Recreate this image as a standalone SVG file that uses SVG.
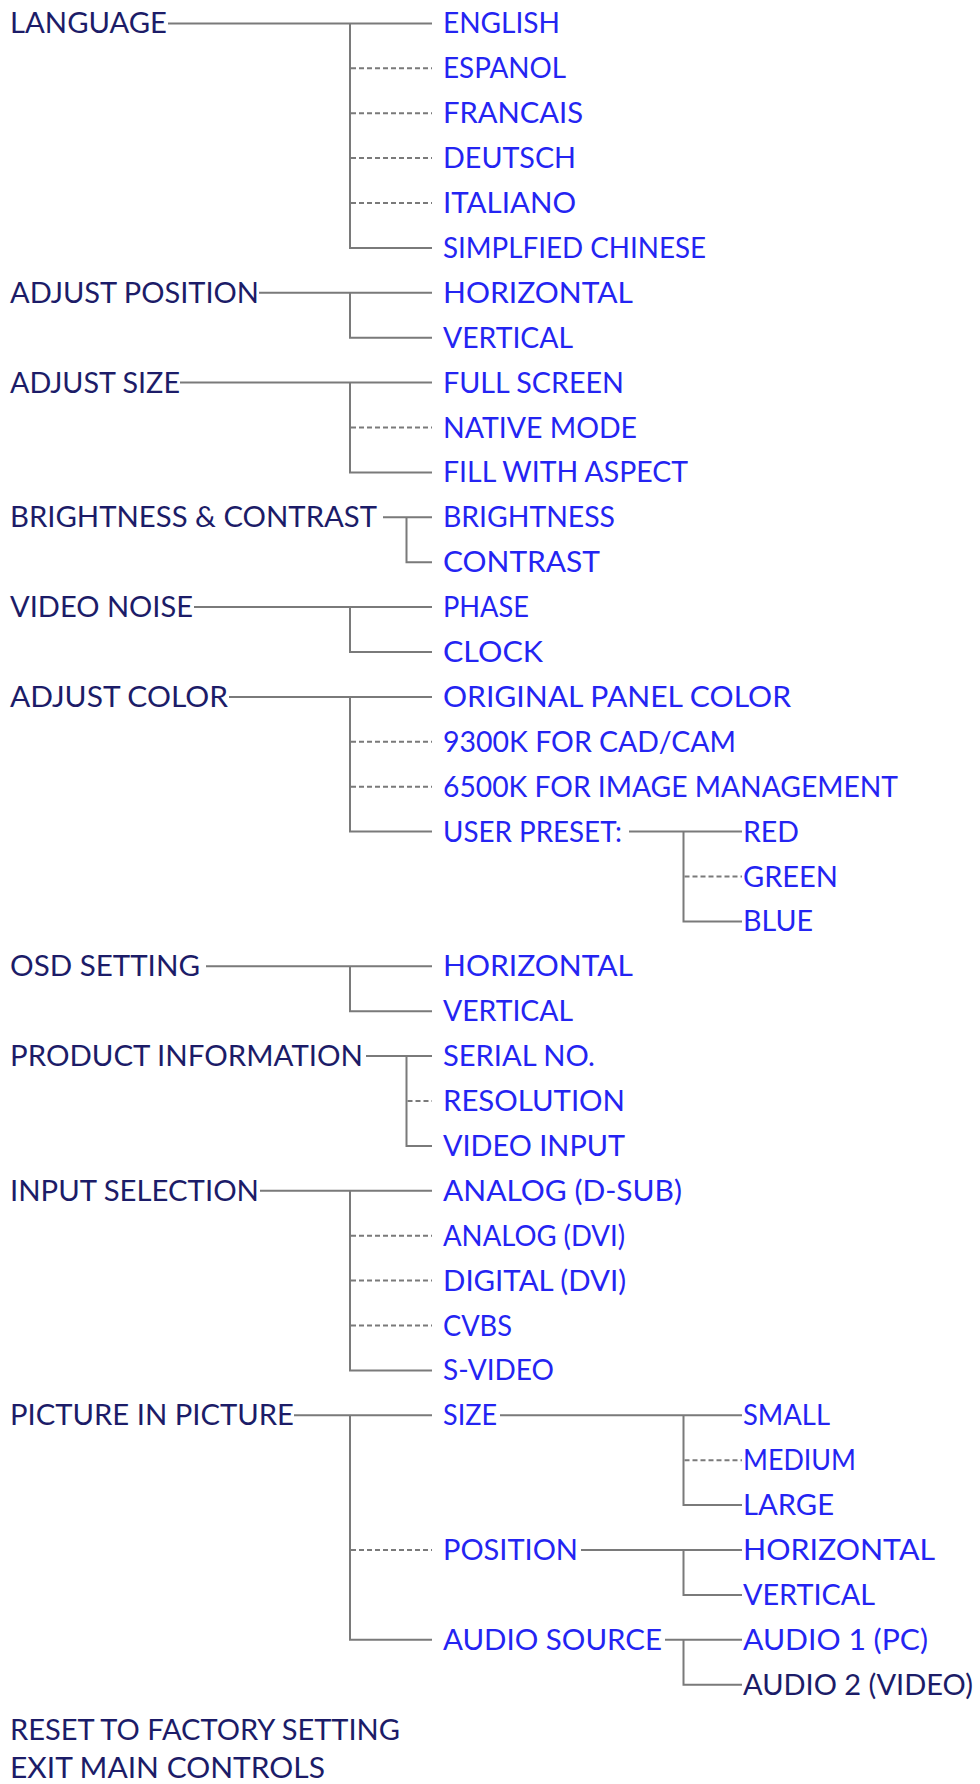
<svg xmlns="http://www.w3.org/2000/svg" width="980" height="1784" viewBox="0 0 980 1784">
<style>
text{font-family:Lato,"Open Sans","Liberation Sans",sans-serif;font-size:28px;}
.m{fill:#1c1c68;}
.c{fill:#2424f2;}
.l{stroke:#7a7a7a;stroke-width:2;fill:none;}
.d{stroke:#7a7a7a;stroke-width:2;fill:none;stroke-dasharray:5 3;}
</style>
<rect width="980" height="1784" fill="#ffffff"/>
<g id="connectors">
<!-- LANGUAGE -->
<path class="l" d="M168 23.4H432M350 23.4V247.9H432"/>
<path class="d" d="M351 68.3H432M351 113.2H432M351 158.1H432M351 203H432"/>
<!-- ADJUST POSITION -->
<path class="l" d="M259 292.8H432M350 292.8V337.7H432"/>
<!-- ADJUST SIZE -->
<path class="l" d="M180 382.6H432M350 382.6V472.4H432"/>
<path class="d" d="M351 427.5H432"/>
<!-- BRIGHTNESS & CONTRAST -->
<path class="l" d="M383 517.3H432M406.5 517.3V562.2H432"/>
<!-- VIDEO NOISE -->
<path class="l" d="M194 607.1H432M350 607.1V652H432"/>
<!-- ADJUST COLOR -->
<path class="l" d="M229 696.9H432M350 696.9V831.6H432"/>
<path class="d" d="M351 741.8H432M351 786.7H432"/>
<path class="l" d="M629 831.6H742M683.5 831.6V921.4H742"/>
<path class="d" d="M684.5 876.5H742"/>
<!-- OSD SETTING -->
<path class="l" d="M206 966.3H432M350 966.3V1011.2H432"/>
<!-- PRODUCT INFORMATION -->
<path class="l" d="M366 1056.1H432M406.5 1056.1V1145.9H432"/>
<path class="d" d="M407.5 1101H432"/>
<!-- INPUT SELECTION -->
<path class="l" d="M260 1190.8H432M350 1190.8V1370.4H432"/>
<path class="d" d="M351 1235.7H432M351 1280.6H432M351 1325.5H432"/>
<!-- PICTURE IN PICTURE -->
<path class="l" d="M294 1415.3H432M350 1415.3V1639.8H432"/>
<path class="d" d="M351 1550H432"/>
<path class="l" d="M500 1415.3H742M683.5 1415.3V1505.1H742"/>
<path class="d" d="M684.5 1460.2H742"/>
<path class="l" d="M581 1550H742M683.5 1550V1594.9H742"/>
<path class="l" d="M665 1639.8H742M683.5 1639.8V1684.7H742"/>
</g>
<g id="n-language"><text class="m" x="10" y="33.4" textLength="157" lengthAdjust="spacingAndGlyphs">LANGUAGE</text></g>
<g id="n-english"><text class="c" x="443" y="33.4" textLength="117" lengthAdjust="spacingAndGlyphs">ENGLISH</text></g>
<g id="n-espanol"><text class="c" x="443" y="78.3" textLength="123" lengthAdjust="spacingAndGlyphs">ESPANOL</text></g>
<g id="n-francais"><text class="c" x="443" y="123.2" textLength="140" lengthAdjust="spacingAndGlyphs">FRANCAIS</text></g>
<g id="n-deutsch"><text class="c" x="443" y="168.1" textLength="133" lengthAdjust="spacingAndGlyphs">DEUTSCH</text></g>
<g id="n-italiano"><text class="c" x="443" y="213" textLength="133" lengthAdjust="spacingAndGlyphs">ITALIANO</text></g>
<g id="n-chinese"><text class="c" x="443" y="257.9" textLength="263" lengthAdjust="spacingAndGlyphs">SIMPLFIED CHINESE</text></g>
<g id="n-adjust-position"><text class="m" x="10" y="302.8" textLength="249" lengthAdjust="spacingAndGlyphs">ADJUST POSITION</text></g>
<g id="n-pos-horizontal"><text class="c" x="443" y="302.8" textLength="190" lengthAdjust="spacingAndGlyphs">HORIZONTAL</text></g>
<g id="n-pos-vertical"><text class="c" x="443" y="347.7" textLength="130" lengthAdjust="spacingAndGlyphs">VERTICAL</text></g>
<g id="n-adjust-size"><text class="m" x="10" y="392.6" textLength="170" lengthAdjust="spacingAndGlyphs">ADJUST SIZE</text></g>
<g id="n-full-screen"><text class="c" x="443" y="392.6" textLength="181" lengthAdjust="spacingAndGlyphs">FULL SCREEN</text></g>
<g id="n-native-mode"><text class="c" x="443" y="437.5" textLength="194" lengthAdjust="spacingAndGlyphs">NATIVE MODE</text></g>
<g id="n-fill-aspect"><text class="c" x="443" y="482.4" textLength="245" lengthAdjust="spacingAndGlyphs">FILL WITH ASPECT</text></g>
<g id="n-brightness-contrast"><text class="m" x="10" y="527.3" textLength="367" lengthAdjust="spacingAndGlyphs">BRIGHTNESS &amp; CONTRAST</text></g>
<g id="n-brightness"><text class="c" x="443" y="527.3" textLength="172" lengthAdjust="spacingAndGlyphs">BRIGHTNESS</text></g>
<g id="n-contrast"><text class="c" x="443" y="572.2" textLength="157" lengthAdjust="spacingAndGlyphs">CONTRAST</text></g>
<g id="n-video-noise"><text class="m" x="10" y="617.1" textLength="183" lengthAdjust="spacingAndGlyphs">VIDEO NOISE</text></g>
<g id="n-phase"><text class="c" x="443" y="617.1" textLength="86" lengthAdjust="spacingAndGlyphs">PHASE</text></g>
<g id="n-clock"><text class="c" x="443" y="662" textLength="100" lengthAdjust="spacingAndGlyphs">CLOCK</text></g>
<g id="n-adjust-color"><text class="m" x="10" y="706.9" textLength="218" lengthAdjust="spacingAndGlyphs">ADJUST COLOR</text></g>
<g id="n-original-color"><text class="c" x="443" y="706.9" textLength="348" lengthAdjust="spacingAndGlyphs">ORIGINAL PANEL COLOR</text></g>
<g id="n-9300k"><text class="c" x="443" y="751.8" textLength="293" lengthAdjust="spacingAndGlyphs">9300K FOR CAD/CAM</text></g>
<g id="n-6500k"><text class="c" x="443" y="796.7" textLength="455" lengthAdjust="spacingAndGlyphs">6500K FOR IMAGE MANAGEMENT</text></g>
<g id="n-user-preset"><text class="c" x="443" y="841.6" textLength="179" lengthAdjust="spacingAndGlyphs">USER PRESET:</text></g>
<g id="n-red"><text class="c" x="743" y="841.6" textLength="56" lengthAdjust="spacingAndGlyphs">RED</text></g>
<g id="n-green"><text class="c" x="743" y="886.5" textLength="95" lengthAdjust="spacingAndGlyphs">GREEN</text></g>
<g id="n-blue"><text class="c" x="743" y="931.4" textLength="70" lengthAdjust="spacingAndGlyphs">BLUE</text></g>
<g id="n-osd-setting"><text class="m" x="10" y="976.3" textLength="190" lengthAdjust="spacingAndGlyphs">OSD SETTING</text></g>
<g id="n-osd-horizontal"><text class="c" x="443" y="976.3" textLength="190" lengthAdjust="spacingAndGlyphs">HORIZONTAL</text></g>
<g id="n-osd-vertical"><text class="c" x="443" y="1021.2" textLength="130" lengthAdjust="spacingAndGlyphs">VERTICAL</text></g>
<g id="n-product-info"><text class="m" x="10" y="1066.1" textLength="353" lengthAdjust="spacingAndGlyphs">PRODUCT INFORMATION</text></g>
<g id="n-serial"><text class="c" x="443" y="1066.1" textLength="152" lengthAdjust="spacingAndGlyphs">SERIAL NO.</text></g>
<g id="n-resolution"><text class="c" x="443" y="1111" textLength="182" lengthAdjust="spacingAndGlyphs">RESOLUTION</text></g>
<g id="n-video-input"><text class="c" x="443" y="1155.9" textLength="182" lengthAdjust="spacingAndGlyphs">VIDEO INPUT</text></g>
<g id="n-input-selection"><text class="m" x="10" y="1200.8" textLength="249" lengthAdjust="spacingAndGlyphs">INPUT SELECTION</text></g>
<g id="n-analog-dsub"><text class="c" x="443" y="1200.8" textLength="239" lengthAdjust="spacingAndGlyphs">ANALOG (D-SUB)</text></g>
<g id="n-analog-dvi"><text class="c" x="443" y="1245.7" textLength="182" lengthAdjust="spacingAndGlyphs">ANALOG (DVI)</text></g>
<g id="n-digital-dvi"><text class="c" x="443" y="1290.6" textLength="183" lengthAdjust="spacingAndGlyphs">DIGITAL (DVI)</text></g>
<g id="n-cvbs"><text class="c" x="443" y="1335.5" textLength="69" lengthAdjust="spacingAndGlyphs">CVBS</text></g>
<g id="n-svideo"><text class="c" x="443" y="1380.4" textLength="111" lengthAdjust="spacingAndGlyphs">S-VIDEO</text></g>
<g id="n-pip"><text class="m" x="10" y="1425.3" textLength="284" lengthAdjust="spacingAndGlyphs">PICTURE IN PICTURE</text></g>
<g id="n-pip-size"><text class="c" x="443" y="1425.3" textLength="54" lengthAdjust="spacingAndGlyphs">SIZE</text></g>
<g id="n-small"><text class="c" x="743" y="1425.3" textLength="87" lengthAdjust="spacingAndGlyphs">SMALL</text></g>
<g id="n-medium"><text class="c" x="743" y="1470.2" textLength="113" lengthAdjust="spacingAndGlyphs">MEDIUM</text></g>
<g id="n-large"><text class="c" x="743" y="1515.1" textLength="91" lengthAdjust="spacingAndGlyphs">LARGE</text></g>
<g id="n-pip-position"><text class="c" x="443" y="1560" textLength="135" lengthAdjust="spacingAndGlyphs">POSITION</text></g>
<g id="n-pip-horizontal"><text class="c" x="743" y="1560" textLength="192" lengthAdjust="spacingAndGlyphs">HORIZONTAL</text></g>
<g id="n-pip-vertical"><text class="c" x="743" y="1604.9" textLength="132" lengthAdjust="spacingAndGlyphs">VERTICAL</text></g>
<g id="n-audio-source"><text class="c" x="443" y="1649.8" textLength="219" lengthAdjust="spacingAndGlyphs">AUDIO SOURCE</text></g>
<g id="n-audio1"><text class="c" x="743" y="1649.8" textLength="185" lengthAdjust="spacingAndGlyphs">AUDIO 1 (PC)</text></g>
<g id="n-audio2"><text class="m" x="743" y="1694.7" textLength="230" lengthAdjust="spacingAndGlyphs">AUDIO 2 (VIDEO)</text></g>
<g id="n-reset"><text class="m" x="10" y="1739.6" textLength="390" lengthAdjust="spacingAndGlyphs">RESET TO FACTORY SETTING</text></g>
<g id="n-exit"><text class="m" x="10" y="1778" textLength="315" lengthAdjust="spacingAndGlyphs">EXIT MAIN CONTROLS</text></g>
</svg>
